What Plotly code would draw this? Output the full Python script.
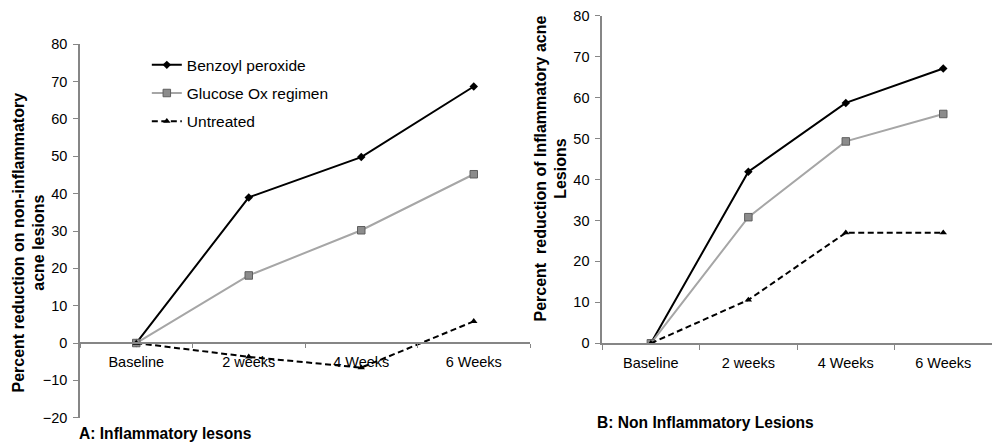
import plotly.graph_objects as go

categories = ["Baseline", "2 weeks", "4 Weeks", "6 Weeks"]

# Panel A (left)
a_benzoyl = [0, 39.0, 49.8, 68.7]
a_glucose = [0, 18.1, 30.2, 45.2]
a_untreated = [0, -3.7, -6.6, 5.8]

# Panel B (right)
b_benzoyl = [0, 41.9, 58.7, 67.1]
b_glucose = [0, 30.8, 49.3, 56.0]
b_untreated = [0, 10.6, 27.0, 27.0]

names = ["Benzoyl peroxide", "Glucose Ox regimen", "Untreated"]

title_a = "Percent reduction on non-inflammatory<br>acne lesions"
title_b = "Percent  reduction of Inflammatory acne<br>Lesions"
label_a = "A: Inflammatory lesons"
label_b = "B: Non Inflammatory Lesions"

FONT = "Liberation Sans, Arial, sans-serif"
AX = "#868686"

styles = [
    dict(line=dict(color="black", width=2),
         marker=dict(symbol="diamond", size=6.5, color="black")),
    dict(line=dict(color="#a6a6a6", width=2),
         marker=dict(symbol="square", size=7.5, color="#8c8c8c",
                     line=dict(color="#5f5f5f", width=1))),
    dict(line=dict(color="black", width=2, dash="6px,3.5px"),
         marker=dict(symbol="triangle-up", size=6.5, color="black")),
]

fig = go.Figure()
for i, (nm, ys) in enumerate(zip(names, [a_benzoyl, a_glucose, a_untreated])):
    fig.add_trace(go.Scatter(x=categories, y=ys, name=nm, mode="lines+markers",
                             xaxis="x", yaxis="y", legendgroup=nm,
                             **styles[i]))
for i, (nm, ys) in enumerate(zip(names, [b_benzoyl, b_glucose, b_untreated])):
    fig.add_trace(go.Scatter(x=categories, y=ys, name=nm, mode="lines+markers",
                             xaxis="x2", yaxis="y2", showlegend=False,
                             legendgroup=nm, **styles[i]))

ya_dom = [0.0571, 0.900]
ya_range = [-20, 80]
zero_pos = ya_dom[0] + (0 - ya_range[0]) / (ya_range[1] - ya_range[0]) * (ya_dom[1] - ya_dom[0])

tickf = dict(family=FONT, size=14.5, color="black")
titlef = dict(family=FONT, size=16, color="black", weight="bold")

fig.update_layout(
    width=992, height=443,
    margin=dict(l=0, r=0, t=0, b=0, autoexpand=False),
    paper_bgcolor="white", plot_bgcolor="white",
    font=dict(family=FONT, color="black"),
    showlegend=True,
    legend=dict(x=0.148, y=0.891, xanchor="left", yanchor="top",
                font=dict(family=FONT, size=15.5, color="black"),
                bgcolor="rgba(0,0,0,0)", tracegroupgap=5, itemwidth=30),
    xaxis=dict(domain=[80 / 992, 530 / 992], anchor="free", position=zero_pos,
               type="category", range=[-0.5, 3.5],
               showline=True, linecolor=AX, linewidth=1.5,
               ticks="outside", tickson="boundaries", ticklen=4, tickcolor=AX,
               tickfont=tickf, showgrid=False, zeroline=False,
               ticklabelstandoff=6, automargin=False),
    yaxis=dict(domain=ya_dom, anchor="x", range=ya_range, dtick=10,
               showline=True, linecolor=AX, linewidth=1.5,
               ticks="outside", ticklen=5, tickcolor=AX, tickfont=tickf,
               showgrid=False, zeroline=False, automargin=False,
               ticklabelstandoff=3),
    xaxis2=dict(domain=[0.607, 1.0], anchor="y2",
                type="category", range=[-0.5, 3.5],
                showline=True, linecolor=AX, linewidth=1.5,
                ticks="outside", tickson="boundaries", ticklen=5, tickcolor=AX,
                tickfont=tickf, showgrid=False, zeroline=False,
                ticklabelstandoff=6, automargin=False),
    yaxis2=dict(domain=[0.225, 0.9646], anchor="x2", range=[0, 80], dtick=10,
                showline=True, linecolor=AX, linewidth=1.5,
                ticks="outside", ticklen=5, tickcolor=AX, tickfont=tickf,
                showgrid=False, zeroline=False, automargin=False,
                ticklabelstandoff=3),
    annotations=[
        dict(text="<b>" + title_a + "</b>", x=28.5 / 992, y=(443 - 243) / 443,
             xref="paper", yref="paper", xanchor="center", yanchor="middle",
             textangle=-90, showarrow=False, font=titlef),
        dict(text="<b>" + title_b + "</b>", x=550 / 992, y=(443 - 168.5) / 443,
             xref="paper", yref="paper", xanchor="center", yanchor="middle",
             textangle=-90, showarrow=False, font=titlef),
        dict(text="<b>" + label_a + "</b>", x=77 / 992, y=(443 - 433) / 443,
             xref="paper", yref="paper", xanchor="left", yanchor="middle",
             showarrow=False, font=dict(family=FONT, size=15.6, color="black")),
        dict(text="<b>" + label_b + "</b>", x=595 / 992, y=(443 - 422) / 443,
             xref="paper", yref="paper", xanchor="left", yanchor="middle",
             showarrow=False, font=dict(family=FONT, size=15.6, color="black")),
    ],
)

fig.write_html("out.html", config={"displayModeBar": False},
               post_script="document.body.style.margin='0';document.body.style.overflow='hidden';")
